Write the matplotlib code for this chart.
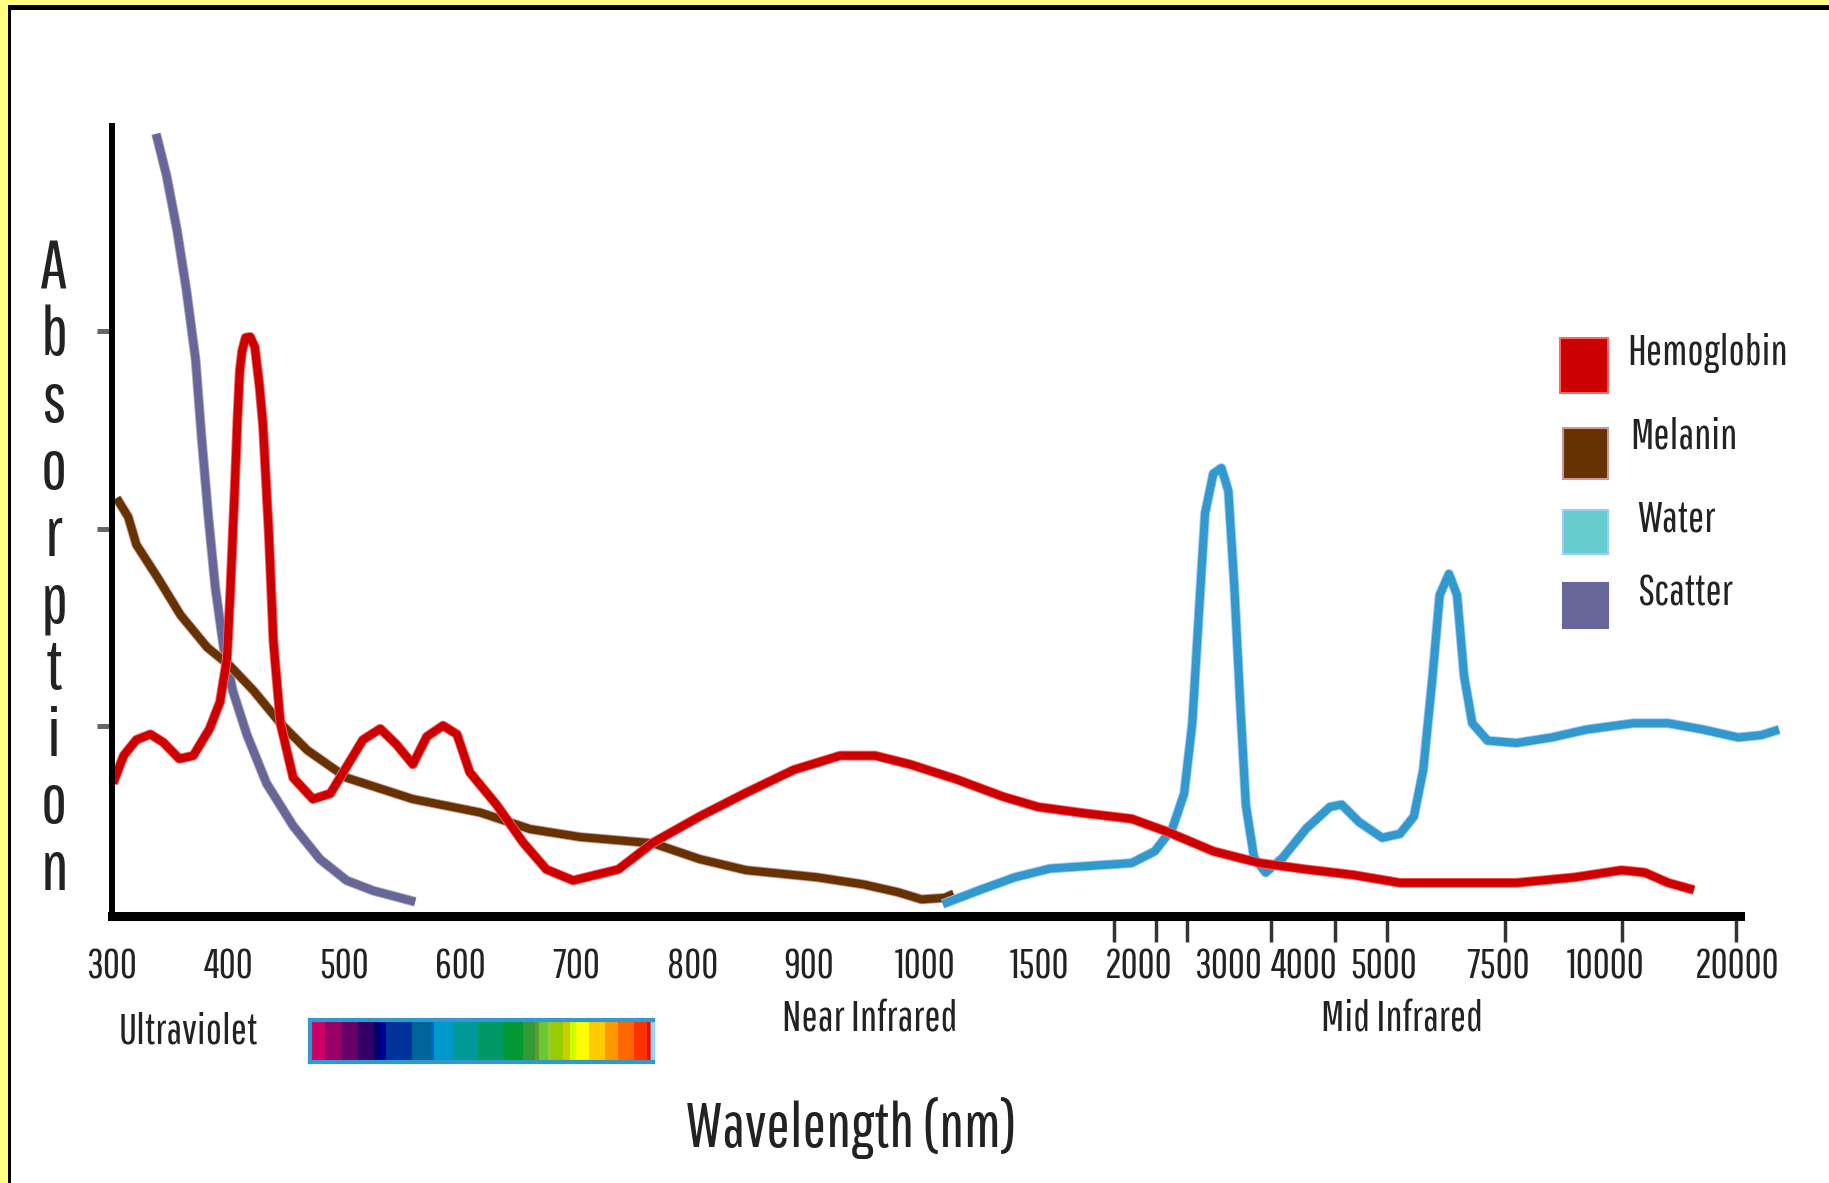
import numpy as np
import matplotlib.pyplot as plt
import matplotlib.patheffects as pe
from matplotlib.patches import Rectangle

plt.rcParams['font.family'] = ['Pathway Gothic One', 'Roboto Condensed', 'Liberation Sans', 'DejaVu Sans']

# wavelength axis labels (nm)
wl_labels = [300, 400, 500, 600, 700, 800, 900, 1000, 1500, 2000, 3000, 4000, 5000, 7500, 10000, 20000]

# absorption curves (arbitrary units 0-100)
hb_wl = [301, 310, 321, 333, 344, 358, 370, 384, 393, 399, 402, 406, 408, 410, 412, 415, 419, 423, 427,
         430, 435, 439, 445, 456, 473, 488, 502, 516, 531, 545, 559, 571, 585, 597, 608, 631, 654, 674,
         697, 736, 766, 806, 846, 887, 927, 957, 987, 1137, 1340, 1492, 1728, 1964, 2312, 2834, 3420,
         4036, 4619, 5355, 6635, 7938, 9288, 11212, 12991, 14770, 16726]
hb_abs = [16.8, 20.3, 22.3, 23.0, 22.0, 19.9, 20.3, 23.7, 27.1, 32.6, 41.5, 55.3, 63.0, 69.0, 71.5, 73.2,
          73.3, 72.0, 67.0, 62.1, 48.4, 34.7, 24.4, 17.5, 14.8, 15.5, 18.9, 22.3, 23.7, 21.7, 19.2, 22.7,
          24.1, 23.0, 18.2, 14.1, 9.3, 5.9, 4.5, 5.9, 9.3, 12.6, 15.6, 18.5, 20.3, 20.3, 19.2, 17.3, 15.1,
          13.8, 13.0, 12.3, 10.7, 8.2, 6.7, 5.9, 5.2, 4.2, 4.2, 4.2, 4.9, 5.8, 5.5, 4.2, 3.3]

mel_wl = [304, 314, 321, 339, 359, 382, 402, 422, 445, 468, 502, 559, 617, 660, 703, 766, 806, 846,
          907, 947, 977, 997, 1085, 1125]
mel_abs = [52.9, 50.5, 47.0, 42.9, 38.1, 34.0, 31.6, 28.5, 24.4, 21.0, 17.5, 14.8, 13.1, 11.0, 10.0,
           9.2, 7.2, 5.8, 4.9, 4.0, 3.0, 2.1, 2.3, 2.8]

wat_wl = [1077, 1239, 1391, 1550, 1786, 1964, 2180, 2377, 2508, 2599, 2677, 2742, 2834, 2925, 3003,
          3080, 3158, 3235, 3343, 3497, 3725, 4036, 4328, 4474, 4691, 4980, 5355, 5661, 5867, 6071,
          6227, 6431, 6610, 6765, 6944, 7278, 7938, 8750, 9559, 12106, 14770, 17434, 20097, 21876, 23212]
wat_abs = [1.5, 3.3, 4.9, 6.0, 6.4, 6.7, 8.2, 11.1, 15.5, 24.4, 39.1, 51.0, 56.0, 56.7, 53.8, 42.0,
           27.2, 14.0, 7.4, 5.5, 7.4, 11.1, 13.8, 14.1, 11.9, 9.9, 10.4, 12.6, 18.5, 30.3, 40.6, 43.3,
           40.6, 30.3, 24.4, 22.2, 21.9, 22.6, 23.6, 24.4, 24.4, 23.6, 22.6, 22.9, 23.6]

sc_wl = [338, 347, 356, 364, 372, 377, 383, 389, 396, 404, 416, 433, 456, 479, 502, 525, 561]
sc_abs = [99.0, 93.7, 86.8, 79.3, 70.4, 60.8, 50.5, 41.5, 34.1, 28.5, 23.0, 16.8, 11.4, 7.2, 4.5, 3.2, 1.8]

names = ['Hemoglobin', 'Melanin', 'Water', 'Scatter']

# visible spectrum strip colours and relative widths
spec_colors = ['#cc0066', '#990066', '#660066', '#330066', '#000066', '#000099', '#003399', '#006699',
               '#0066cc', '#0099cc', '#009999', '#009966', '#009933', '#339933', '#669933', '#66cc33',
               '#99cc33', '#99cc00', '#cccc00', '#ccff00', '#ffff00', '#ffcc00', '#ff9900', '#ff6600',
               '#ff3300', '#ff0000', '#996666']
spec_widths = [47, 50, 48, 47, 18, 19, 78, 56, 9, 57, 76, 74, 58, 38, 10, 29, 8, 37, 20, 18, 40, 45, 40,
               47, 40, 8, 10]

# uneven axis: where each label sits, in "tick units"
label_pos = [0, 1, 2, 3, 4, 5, 6, 7, 7.99, 8.84, 9.61, 10.26, 10.95, 11.93, 12.86, 13.99]
tick_pos = [0, 1, 2, 3, 4, 5, 6, 7, 7.99, 8.63, 8.99, 9.26, 9.61, 9.98, 10.53, 10.98, 11.99, 13.0, 13.98]

WL = np.array(wl_labels, float)
LP = np.array(label_pos, float)
s_hi = (LP[-1] - LP[-2]) / (WL[-1] - WL[-2])
s_lo = (LP[1] - LP[0]) / (WL[1] - WL[0])


def fwd(w):
    w = np.asarray(w, float)
    p = np.interp(w, WL, LP)
    p = np.where(w > WL[-1], LP[-1] + (w - WL[-1]) * s_hi, p)
    return np.where(w < WL[0], LP[0] + (w - WL[0]) * s_lo, p)


def inv(p):
    p = np.asarray(p, float)
    w = np.interp(p, LP, WL)
    w = np.where(p > LP[-1], WL[-1] + (p - LP[-1]) / s_hi, w)
    return np.where(p < LP[0], WL[0] + (p - LP[0]) / s_lo, w)


W, H = 1829, 1183
TXT = '#222222'
fig = plt.figure(figsize=(W / 100, H / 100), dpi=100)
fig.patch.set_facecolor('white')


def box(x0, y0, x1, y1, **kw):
    # rectangle given in figure pixels, measured from the top left
    fig.add_artist(Rectangle((x0 / W, 1 - y1 / H), (x1 - x0) / W, (y1 - y0) / H,
                             transform=fig.transFigure, **kw))


# yellow / black frame on top and left
box(0, 0, W, 5, color='#ffff80', lw=0)
box(0, 0, 8, H, color='#ffff80', lw=0)
box(8, 5, W, 10, color='black', lw=0)
box(8, 5, 11, H, color='black', lw=0)

ax = fig.add_axes([112 / W, 1 - 916 / H, (1740 - 112) / W, (916 - 126) / H])
ax.set_xscale('function', functions=(fwd, inv))
ax.set_xlim(300, float(inv(14.017)))
ax.set_ylim(0, 100)

lw = 5.8
curves = [(sc_wl, sc_abs, '#666699', '#aaaabb'),
          (mel_wl, mel_abs, '#663300', '#cc9999'),
          (wat_wl, wat_abs, '#3399cc', '#99ccff'),
          (hb_wl, hb_abs, '#cc0000', '#ff6666')]
for xs, ys, c, edge in curves:
    ax.plot(xs, ys, color=c, lw=lw, solid_capstyle='butt', solid_joinstyle='round', clip_on=False,
            path_effects=[pe.Stroke(linewidth=lw + 1.3, foreground=edge), pe.Normal()])

for s in ['top', 'right']:
    ax.spines[s].set_visible(False)
ax.spines['left'].set_linewidth(4.3)
ax.spines['bottom'].set_linewidth(6.5)

ax.set_xticks(wl_labels)
ax.set_xticklabels([str(v) for v in wl_labels])
ax.set_xticks(inv(tick_pos), minor=True)
ax.tick_params(axis='x', which='major', length=0, pad=23, labelsize=30, labelcolor=TXT)
ax.tick_params(axis='x', which='minor', length=19, width=2.5, color='#333333')
ax.set_yticks([24, 49, 74])
ax.tick_params(axis='y', length=11, width=3.6, color='#666666', labelleft=False)

# spectrum strip
cax = fig.add_axes([309.5 / W, 1 - 1061.5 / H, (653 - 309.5) / W, (1061.5 - 1020) / H])
edges = np.concatenate([[0], np.cumsum(spec_widths)[:-1]])
cax.bar(edges, 1, width=spec_widths, align='edge', color=spec_colors, lw=0)
cax.set_xlim(0, sum(spec_widths))
cax.set_ylim(0, 1)
cax.set_xticks([])
cax.set_yticks([])
for s in ['top', 'left', 'bottom']:
    cax.spines[s].set_color('#3399cc')
    cax.spines[s].set_linewidth(3)
cax.spines['right'].set_color('#99ccff')
cax.spines['right'].set_linewidth(3)

fig.text(188 / W, 1 - 1032 / H, 'Ultraviolet', ha='center', va='center', fontsize=31, color=TXT)
fig.text(870 / W, 1 - 1020 / H, 'Near Infrared', ha='center', va='center', fontsize=31, color=TXT)
fig.text(1402 / W, 1 - 1020 / H, 'Mid Infrared', ha='center', va='center', fontsize=31, color=TXT)
fig.text(851 / W, 1 - 1147 / H, 'Wavelength (nm)', ha='center', va='baseline', fontsize=45, color=TXT)
fig.text(54 / W, 1 - 238 / H, '\n'.join('Absorption'), ha='center', va='top', fontsize=50,
         linespacing=1.075, color=TXT)

# legend: coloured squares with labels
legend_items = [(names[0], '#cc0000', '#ff6666', (1560, 338, 1608, 393), (1627, 353)),
                (names[1], '#663300', '#cc9999', (1563, 428, 1608, 479), (1630, 437)),
                (names[2], '#66cccc', '#99ccff', (1563, 510, 1608, 554), (1637, 520)),
                (names[3], '#666699', '#666699', (1563, 583, 1608, 628), (1637, 593))]
for label, fc, ec, (x0, y0, x1, y1), (tx, ty) in legend_items:
    box(x0, y0, x1, y1, facecolor=fc, edgecolor=ec, lw=1.5)
    fig.text(tx / W, 1 - ty / H, label, ha='left', va='center', fontsize=31, color=TXT)

fig.savefig('out.png', dpi=100)
